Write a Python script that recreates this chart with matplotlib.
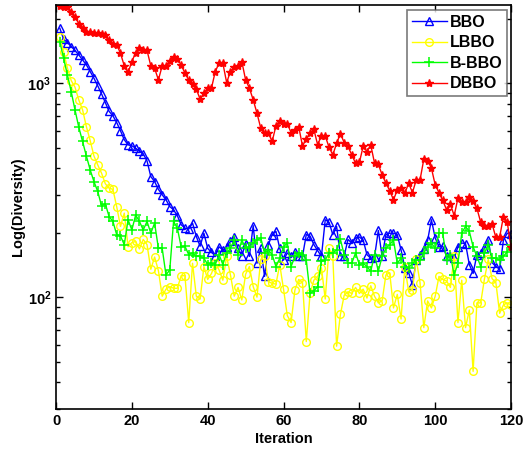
import matplotlib
matplotlib.use("Agg")
import matplotlib.pyplot as plt
from matplotlib.ticker import FixedLocator, LogLocator, NullFormatter

plt.rcParams['font.family'] = ['Liberation Sans', 'DejaVu Sans']
plt.rcParams['font.weight'] = 'bold'
plt.rcParams['mathtext.fontset'] = 'custom'
plt.rcParams['mathtext.bf'] = 'Liberation Sans:bold'
plt.rcParams['mathtext.rm'] = 'Liberation Sans:bold'

iterations = list(range(1, 121))

bbo = [1807, 1606, 1549, 1484, 1422, 1356, 1285, 1218, 1134, 1055,
       972, 892, 812, 738, 704, 655, 599, 544, 515, 510,
       497, 480, 468, 433, 366, 347, 319, 301, 285, 265,
       256, 240, 218, 210, 208, 222, 192, 173, 199, 169,
       162, 156, 172, 166, 172, 182, 191, 169, 156, 178,
       155, 216, 144, 169, 125, 176, 196, 203, 169, 149,
       161, 155, 163, 156, 155, 196, 193, 176, 165, 155,
       230, 224, 196, 214, 156, 156, 186, 179, 189, 191,
       185, 158, 152, 154, 205, 155, 196, 199, 199, 196,
       166, 137, 130, 114, 149, 158, 168, 184, 230, 189,
       172, 173, 155, 156, 152, 172, 179, 178, 142, 129,
       158, 161, 169, 185, 145, 139, 135, 185, 199, 198]

lbbo = [1640, 1406, 1175, 1029, 958, 836, 751, 627, 540, 457,
        415, 380, 339, 323, 319, 265, 214, 247, 172, 180,
        182, 168, 186, 176, 135, 154, 133, 101, 109, 112,
        110, 110, 126, 126, 76, 144, 101, 98, 139, 121,
        129, 144, 134, 120, 155, 127, 101, 111, 97, 128,
        139, 112, 100, 150, 156, 118, 116, 115, 142, 109,
        82, 76, 108, 121, 117, 62, 104, 120, 125, 137,
        98, 169, 155, 59, 83, 102, 106, 104, 111, 104,
        109, 99, 113, 101, 94, 96, 127, 130, 89, 103,
        79, 139, 106, 108, 150, 117, 72, 96, 89, 101,
        125, 121, 119, 111, 155, 76, 120, 72, 87, 45,
        94, 94, 122, 150, 122, 117, 84, 92, 94, 92]

b_bbo = [1566, 1308, 1094, 914, 751, 623, 534, 457, 394, 347,
         312, 267, 273, 238, 226, 196, 193, 176, 230, 206,
         242, 226, 206, 226, 199, 222, 169, 169, 127, 134,
         226, 210, 172, 173, 158, 161, 155, 155, 152, 142,
         144, 142, 158, 142, 161, 169, 185, 158, 185, 169,
         172, 179, 185, 189, 161, 166, 158, 139, 152, 172,
         179, 139, 155, 161, 158, 149, 104, 107, 112, 147,
         149, 161, 161, 166, 186, 158, 144, 144, 161, 142,
         144, 139, 132, 158, 132, 155, 169, 176, 185, 144,
         152, 139, 137, 144, 149, 149, 161, 172, 179, 169,
         199, 199, 149, 158, 127, 144, 199, 214, 203, 172,
         155, 139, 161, 176, 152, 152, 149, 155, 163, 176]

dbbo = [2300, 2282, 2266, 2163, 2049, 1894, 1807, 1731, 1731, 1713,
        1713, 1695, 1682, 1594, 1527, 1511, 1381, 1205, 1122, 1262,
        1391, 1458, 1432, 1422, 1205, 1175, 1036, 1205, 1205, 1276,
        1332, 1294, 1218, 1114, 1036, 993, 938, 842, 898, 948,
        948, 1134, 1240, 1240, 1007, 1134, 1196, 1205, 1262, 1036,
        948, 836, 724, 616, 584, 584, 534, 632, 669, 645,
        645, 588, 605, 627, 509, 548, 584, 609, 515, 569,
        567, 502, 462, 524, 580, 528, 506, 462, 423, 426,
        506, 479, 515, 423, 418, 373, 341, 315, 285, 317,
        323, 306, 341, 308, 353, 353, 441, 435, 401, 335,
        308, 283, 256, 273, 240, 290, 277, 277, 295, 280,
        260, 224, 216, 216, 220, 190, 191, 238, 224, 171]

fig = plt.figure(figsize=(5.3, 4.5), dpi=100)
ax = fig.add_axes([0.1057, 0.0911, 0.8585, 0.8978])

ax.semilogy(iterations, bbo, color='blue', lw=1.0, marker='^', ms=5.5,
            mfc='none', mew=1.0, label='BBO')
ax.semilogy(iterations, lbbo, color='yellow', lw=1.0, marker='o', ms=5.5,
            mfc='none', mew=1.0, label='LBBO')
ax.semilogy(iterations, b_bbo, color='#00ff00', lw=1.0, marker='+', ms=6.5,
            mew=1.1, label='B-BBO')
ax.semilogy(iterations, dbbo, color='red', lw=1.0, marker='*', ms=6,
            mew=1.0, label='DBBO')

ax.set_xlim(0, 120)
ax.set_ylim(30, 2320)
ax.xaxis.set_major_locator(FixedLocator([0, 20, 40, 60, 80, 100, 120]))
ax.yaxis.set_major_locator(FixedLocator([100, 1000]))
ax.set_yticklabels([r'$\mathbf{10^{2}}$', r'$\mathbf{10^{3}}$'])
ax.yaxis.set_minor_locator(LogLocator(base=10, subs=range(2, 10)))
ax.yaxis.set_minor_formatter(NullFormatter())

ax.tick_params(which='both', direction='in', top=True, right=True,
               labelsize=10.5, width=1.0)
ax.tick_params(which='major', length=5)
ax.tick_params(which='minor', length=3)
for s in ax.spines.values():
    s.set_linewidth(1.2)

ax.set_xlabel('Iteration', fontsize=10.5, fontweight='bold', labelpad=3)
ax.set_ylabel('Log(Diversity)', fontsize=10.5, fontweight='bold', labelpad=2)

leg = ax.legend(loc='upper right', bbox_to_anchor=(0.992, 0.988),
                borderaxespad=0, fancybox=False, fontsize=11.5,
                handlelength=2.2, labelspacing=0.35, borderpad=0.3,
                handletextpad=0.2)
leg.get_frame().set_edgecolor('0.35')
leg.get_frame().set_linewidth(1.2)

fig.savefig('out.png', dpi=100)
